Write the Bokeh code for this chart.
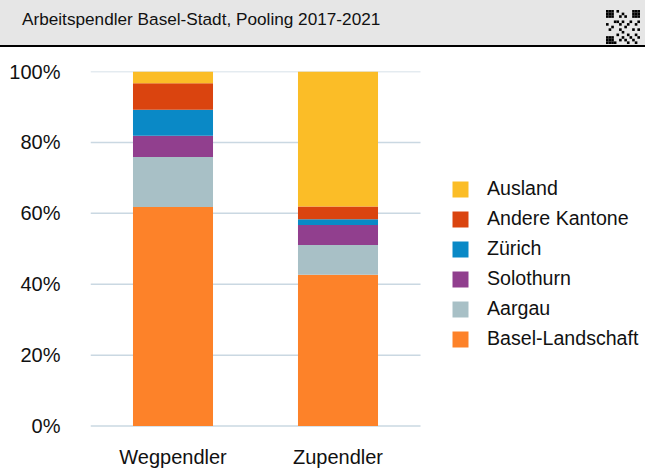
from bokeh.plotting import figure
from bokeh.layouts import column
from bokeh.models import Range1d, Legend, LegendItem, FixedTicker, PrintfTickFormatter, Div
from bokeh.embed import file_html
from bokeh.resources import INLINE

title_text = "Arbeitspendler Basel-Stadt, Pooling 2017-2021"
categories = ["Wegpendler", "Zupendler"]
series = ["Basel-Landschaft", "Aargau", "Solothurn", "Zürich", "Andere Kantone", "Ausland"]
basel_landschaft = [61.8, 42.7]
aargau = [14.1, 8.4]
solothurn = [6.0, 5.6]
zuerich = [7.3, 1.6]
andere_kantone = [7.5, 3.6]
ausland = [3.3, 38.1]
colors = ["#fd8229", "#a8c0c6", "#913f8e", "#0a89c6", "#da440f", "#fbbd27"]
y_ticks = [0, 20, 40, 60, 80, 100]

FONT = "Liberation Sans"
W = 645

# ---- header (title band with a small QR-like decoration) ----
mods = set()
for (fx, fy) in [(0, 0), (10, 0), (0, 10)]:
    for i in range(3):
        for j in range(3):
            if i in (0, 2) or j in (0, 2):
                mods.add((fx + i, fy + j))
    mods.add((fx + 1, fy + 1))
extra = [(4, 0), (6, 1), (5, 2), (7, 2), (4, 4), (5, 5), (6, 4), (8, 5), (0, 5), (2, 6), (3, 4), (1, 7),
         (9, 4), (11, 5), (12, 4), (10, 7), (12, 7), (5, 7), (6, 8), (7, 6), (4, 9), (5, 11), (6, 10),
         (8, 12), (9, 10), (10, 11), (11, 12), (12, 10), (7, 11), (8, 9), (11, 9), (3, 12)]
mods.update(extra)
cell = 34 / 13
rects = "".join(f'<rect x="{a * cell:.2f}" y="{b * cell:.2f}" width="{cell:.2f}" height="{cell:.2f}"/>'
                for a, b in sorted(mods))
qr_svg = (f'<svg width="34" height="34" style="position:absolute;left:606px;top:10px" '
          f'xmlns="http://www.w3.org/2000/svg"><g fill="#000">{rects}</g></svg>')
header_html = (
    f'<div style="position:relative;width:{W}px;height:47px;background:#e6e6e6;'
    f'border-bottom:2px solid #000;margin:0;padding:0;overflow:hidden">'
    f'<span style="position:absolute;left:22px;top:9px;font-family:\'{FONT}\',Arial,sans-serif;'
    f'font-size:17.2px;line-height:20px;color:#111;white-space:nowrap">{title_text}</span>'
    f'{qr_svg}</div>'
)
hdr = Div(text=header_html, width=W, height=49, margin=(0, 0, 0, 0))

# ---- main chart ----
H = 421
FRAME_LEFT = 90
UNIT = 165  # px per category slot
xs = list(range(len(categories)))
x_start = -0.5
x_end = x_start + (W - FRAME_LEFT) / UNIT

p = figure(width=W, height=H, x_range=Range1d(x_start, x_end), y_range=Range1d(-0.4, 100),
           output_backend="svg", toolbar_location=None,
           min_border_left=FRAME_LEFT, min_border_right=0, min_border_top=22,
           min_border_bottom=42, outline_line_color=None, margin=(0, 0, 0, 0))

# horizontal grid lines limited to the category area
p.segment(x0=x_start, x1=len(categories) - 0.5, y0=y_ticks, y1=y_ticks,
          line_color="#cad8e2", line_width=1.5, level="underlay")

data = dict(x=xs)
for name, vals in zip(series, [basel_landschaft, aargau, solothurn, zuerich, andere_kantone, ausland]):
    data[name] = vals
rs = p.vbar_stack(series, x="x", width=0.485, color=colors, line_color=None, source=data)

p.xgrid.visible = False
p.ygrid.visible = False
p.xaxis.ticker = FixedTicker(ticks=xs)
p.xaxis.major_label_overrides = {i: c for i, c in zip(xs, categories)}
p.yaxis.ticker = FixedTicker(ticks=y_ticks)
p.yaxis.formatter = PrintfTickFormatter(format="%d%%")
for ax in (p.xaxis, p.yaxis):
    ax.axis_line_color = None
    ax.major_tick_line_color = None
    ax.minor_tick_line_color = None
    ax.major_tick_out = 0
    ax.major_tick_in = 0
    ax.major_label_text_font = FONT
    ax.major_label_text_font_size = "20px"
    ax.major_label_text_color = "#111111"
p.yaxis.major_label_standoff = 30
p.xaxis.major_label_standoff = 18

items = [LegendItem(label=n, renderers=[r]) for n, r in zip(series, rs)][::-1]
legend = Legend(items=items, location=(360, 77), padding=0, margin=0, spacing=7,
                glyph_width=20, glyph_height=20, label_standoff=17,
                label_text_font=FONT, label_text_font_size="19.6px", label_text_color="#111111",
                border_line_color=None, background_fill_alpha=0)
p.add_layout(legend, "center")

layout = column(hdr, p, spacing=0)
open("out.html", "w").write(file_html(layout, INLINE))
